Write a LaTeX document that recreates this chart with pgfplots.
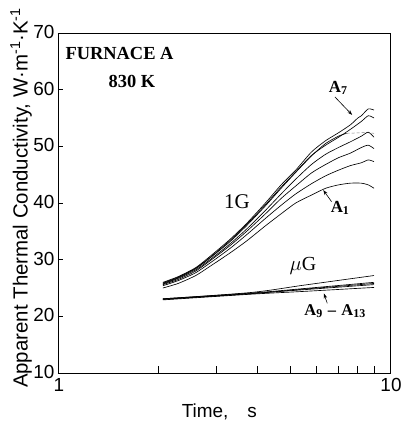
\documentclass[border=0pt]{standalone}
\usepackage{fontspec}
\setmainfont{Liberation Serif}
\setsansfont{Liberation Sans}
\usepackage{pgfplots}
\pgfplotsset{compat=1.18}
\usetikzlibrary{arrows.meta}
\newcommand\sub[1]{\raisebox{-0.12em}{\fontsize{12}{12}\selectfont #1}}
\begin{document}
\begin{tikzpicture}
\begin{axis}[
 scale only axis, width=332bp, height=340bp,
 xmode=log, xmin=1, xmax=10, ymin=10, ymax=70,
 xtick={1,10}, xticklabels={1,10}, minor xtick={2,3,4,5,6,7,8,9},
 ytick={10,20,30,40,50,60,70},
 tick align=inside, xtick pos=left, ytick pos=left,
 major tick length=5bp, minor tick length=7bp,
 axis line style={line width=0.9pt},
 every tick/.style={black, line width=0.8pt},
 /pgf/number format/assume math mode=true,
 ticklabel style={font=\sffamily\fontsize{19}{20}\selectfont},
 xticklabel style={yshift=-1.5bp, xshift=1bp},
 yticklabel style={xshift=0bp, yshift=1bp},
 xlabel={Time,\quad s},
 ylabel={Apparent Thermal Conductivity, W·m\textsuperscript{-1}·K\textsuperscript{-1}},
 xlabel style={at={(axis description cs:0.486,-0.115)}, anchor=center, font=\sffamily\fontsize{19}{20}\selectfont},
 ylabel style={at={(axis description cs:-0.068,0.515)}, anchor=south, font=\sffamily\fontsize{20.5}{21}\selectfont},
 clip=false,
]
% 1G curves
\addplot[black, line width=0.65pt, smooth, tension=0.4] coordinates {(2.07,26.0)(2.3,27.0)(2.6,28.6)(2.9,30.8)(3.3,33.6)(3.7,36.4)(4.2,39.9)(4.7,43.2)(5.2,45.8)(5.8,49.0)(6.4,51.0)(7.0,52.4)(7.6,53.8)(8.0,55.0)(8.2,55.4)(8.6,56.6)(8.95,56.4)};
\addplot[black, line width=0.65pt, smooth, tension=0.4] coordinates {(2.07,25.9)(2.3,26.9)(2.6,28.5)(2.9,30.6)(3.3,33.4)(3.7,36.2)(4.2,39.6)(4.7,42.8)(5.2,45.5)(5.8,48.4)(6.4,50.2)(7.0,51.6)(7.6,53.0)(8.2,54.4)(8.6,55.4)(8.95,55.0)};
\addplot[black, line width=0.65pt, smooth, tension=0.4] coordinates {(2.07,25.8)(2.3,26.8)(2.6,28.4)(2.9,30.5)(3.3,33.2)(3.7,36.0)(4.2,39.4)(4.7,42.6)(5.2,45.4)(5.8,48.3)(6.4,50.5)(7.0,51.8)(7.4,52.3)};
\addplot[gray, line width=0.5pt, densely dashed] coordinates {(7.4,52.3)(8.2,52.4)(8.6,52.4)(8.95,52.3)};
\addplot[black, line width=0.65pt, smooth, tension=0.4] coordinates {(2.07,25.7)(2.3,26.7)(2.6,28.2)(2.9,30.2)(3.3,32.8)(3.7,35.4)(4.2,38.6)(4.7,41.6)(5.2,44.2)(5.8,46.8)(6.4,48.6)(7.0,49.8)(7.6,50.8)(8.2,51.8)(8.6,52.5)(8.95,51.6)};
\addplot[black, line width=0.65pt, smooth, tension=0.4] coordinates {(2.07,25.6)(2.3,26.5)(2.6,28.0)(2.9,30.0)(3.3,32.5)(3.7,35.0)(4.2,38.0)(4.7,40.8)(5.2,43.0)(5.8,45.3)(6.4,46.8)(7.0,48.0)(7.6,48.8)(8.2,49.8)(8.6,50.2)(8.95,49.6)};
\addplot[black, line width=0.65pt, smooth, tension=0.4] coordinates {(2.07,25.4)(2.3,26.3)(2.6,27.7)(2.9,29.6)(3.3,32.0)(3.7,34.4)(4.2,37.2)(4.7,39.6)(5.2,41.6)(5.8,43.4)(6.4,44.8)(7.0,45.8)(7.6,46.6)(8.2,47.1)(8.6,47.6)(8.95,47.3)};
\addplot[black, line width=0.65pt, smooth, tension=0.4] coordinates {(2.07,25.0)(2.3,25.8)(2.6,27.2)(2.9,29.0)(3.3,31.2)(3.7,33.3)(4.2,35.9)(4.7,38.1)(5.2,40.0)(5.8,41.4)(6.4,42.6)(7.0,43.2)(7.6,43.5)(8.2,43.5)(8.6,43.2)(8.95,42.6)};
% muG curves
\addplot[black, line width=0.65pt, smooth] coordinates {(2.07,23.1)(3.8,24.2)(5.5,25.5)(8.95,27.2)};
\addplot[black, line width=0.65pt, smooth] coordinates {(2.07,23.1)(3.8,24.1)(5.5,24.9)(8.95,26.0)};
\addplot[black, line width=0.65pt, smooth] coordinates {(2.07,23.0)(3.8,24.0)(5.5,24.8)(8.95,25.8)};
\addplot[black, line width=0.65pt, smooth] coordinates {(2.07,23.0)(3.8,24.0)(5.5,24.7)(8.95,25.6)};
\addplot[black, line width=0.65pt, smooth] coordinates {(2.07,22.9)(3.8,23.9)(5.5,24.4)(8.95,25.1)};
% annotations
\node[font=\bfseries\fontsize{18.5}{20}\selectfont, anchor=west] at (rel axis cs:0.012,0.94) {FURNACE A};
\node[font=\bfseries\fontsize{18.5}{20}\selectfont] at (rel axis cs:0.223,0.856) {830 K};
\node[font=\bfseries\fontsize{17}{18}\selectfont] at (rel axis cs:0.843,0.838) {A\sub{7}};
\draw[line width=0.6pt, -{Stealth[length=5bp,width=3.5bp]}] (rel axis cs:0.834,0.812) -- (rel axis cs:0.886,0.759);
\node[font=\fontsize{21}{22}\selectfont] at (rel axis cs:0.539,0.503) {1G};
\node[font=\bfseries\fontsize{17}{18}\selectfont] at (rel axis cs:0.849,0.485) {A\sub{1}};
\draw[line width=0.6pt, -{Stealth[length=5bp,width=3.5bp]}] (rel axis cs:0.824,0.504) -- (rel axis cs:0.799,0.538);
\node[font=\fontsize{20}{22}\selectfont] at (rel axis cs:0.738,0.315) {$\mu$G};
\node[font=\bfseries\fontsize{16.5}{18}\selectfont] at (rel axis cs:0.834,0.182) {A\sub{9}\,\,--\,\,A\sub{13}};
\draw[line width=0.6pt, -{Stealth[length=5bp,width=3.5bp]}] (rel axis cs:0.811,0.205) -- (rel axis cs:0.801,0.234);
\end{axis}
\pgfresetboundingbox
\path[use as bounding box] (-58bp,-55bp) rectangle (351bp,373bp);
\end{tikzpicture}
\end{document}
